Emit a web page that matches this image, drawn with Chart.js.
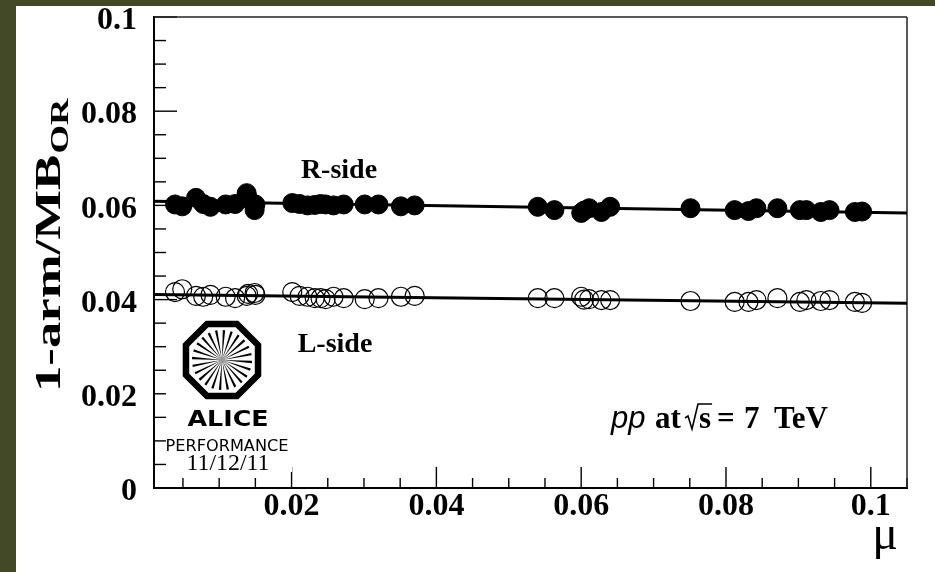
<!DOCTYPE html>
<html>
<head>
<meta charset="utf-8">
<script src="https://cdn.jsdelivr.net/npm/chart.js@4/dist/chart.umd.min.js"></script>
<style>
  html, body { margin: 0; padding: 0; background: #fff; }
  canvas { display: block; }
</style>
</head>
<body>
<canvas id="myChart" width="935" height="572"></canvas>
<script>
// run-by-run mean number of collisions per bunch crossing
const mu = [0.0039, 0.0049, 0.0068, 0.0078, 0.0088, 0.0109, 0.0122, 0.0138, 0.0140, 0.0149, 0.0150,
            0.0201, 0.0211, 0.0222, 0.0232, 0.0240, 0.0247, 0.0258, 0.0272, 0.0301, 0.0320, 0.0351, 0.0370,
            0.0540, 0.0563, 0.0600, 0.0604, 0.0611, 0.0628, 0.0640,
            0.0751, 0.0812, 0.0831, 0.0842, 0.0871, 0.0902, 0.0911, 0.0931, 0.0943, 0.0978, 0.0988];
// 1-arm / MB_OR ratio, R side (filled) and L side (open)
const rSide = [0.0602, 0.0598, 0.0616, 0.0603, 0.0597, 0.0602, 0.0603, 0.0626, 0.0614, 0.0590, 0.0602,
               0.0605, 0.0603, 0.0600, 0.0601, 0.0603, 0.0602, 0.0600, 0.0602, 0.0602, 0.0602, 0.0598, 0.0600,
               0.0597, 0.0590, 0.0584, 0.0589, 0.0594, 0.0586, 0.0597,
               0.0594, 0.0590, 0.0588, 0.0594, 0.0594, 0.0590, 0.0590, 0.0586, 0.0590, 0.0586, 0.0587];
const lSide = [0.0416, 0.0422, 0.0408, 0.0406, 0.0410, 0.0406, 0.0403, 0.0408, 0.0412, 0.0414, 0.0410,
               0.0416, 0.0408, 0.0406, 0.0403, 0.0403, 0.0401, 0.0406, 0.0403, 0.0401, 0.0403, 0.0406, 0.0408,
               0.0403, 0.0403, 0.0406, 0.0400, 0.0401, 0.0399, 0.0399,
               0.0397, 0.0395, 0.0395, 0.0399, 0.0403, 0.0395, 0.0399, 0.0397, 0.0399, 0.0395, 0.0393];
// straight-line fits, evaluated at the ends of the mu range
const fitMu = [0.001, 0.105];
const fitR = [0.0609, 0.0584];
const fitL = [0.0411, 0.0392];

const xTicks = [0.02, 0.04, 0.06, 0.08, 0.1];
const xTickLabels = ["0.02", "0.04", "0.06", "0.08", "0.1"];
const yTicks = [0, 0.02, 0.04, 0.06, 0.08, 0.1];
const yTickLabels = ["0", "0.02", "0.04", "0.06", "0.08", "0.1"];

const SERIF = "'Liberation Serif', 'Times New Roman', serif";
const SANS = "'Liberation Sans', Arial, sans-serif";

function pts(xs, ys) {
  return xs.map((x, i) => ({ x: x, y: ys[i] }));
}

// text squeezed/stretched horizontally to a given width
function textW(ctx, text, cx, by, width) {
  const w = ctx.measureText(text).width;
  ctx.save();
  ctx.translate(cx, by);
  ctx.scale(width / w, 1);
  ctx.textAlign = "center";
  ctx.textBaseline = "alphabetic";
  ctx.fillText(text, 0, 0);
  ctx.restore();
}

function line(ctx, x1, y1, x2, y2) {
  ctx.beginPath();
  ctx.moveTo(x1, y1);
  ctx.lineTo(x2, y2);
  ctx.stroke();
}

const background = {
  id: "background",
  beforeDraw(chart) {
    const ctx = chart.ctx;
    ctx.save();
    ctx.fillStyle = "#434826";
    ctx.fillRect(0, 0, chart.width, chart.height);
    ctx.fillStyle = "#fff";
    ctx.fillRect(16, 6, chart.width - 16, chart.height - 6);
    ctx.restore();
  }
};

// ROOT style: ticks point into the frame, 4 subdivisions per label
const frameTicks = {
  id: "frameTicks",
  beforeDatasetsDraw(chart) {
    const ctx = chart.ctx, a = chart.chartArea;
    const xs = chart.scales.x, ys = chart.scales.y;
    ctx.save();
    ctx.strokeStyle = "#000";
    ctx.lineWidth = 1.4;
    for (let i = 0; i <= 20; i++) {
      const v = i * 0.005;
      const y = ys.getPixelForValue(v);
      line(ctx, a.left, y, a.left + (i % 4 === 0 ? 23 : 12), y);
    }
    for (let i = 1; i <= 21; i++) {
      const v = i * 0.005;
      if (v > xs.max) break;
      const x = xs.getPixelForValue(v);
      line(ctx, x, a.bottom, x, a.bottom - (i % 4 === 0 ? 21 : 10));
    }
    ctx.strokeStyle = "#222";
    ctx.lineWidth = 1.5;
    line(ctx, a.left, a.top, a.right, a.top);
    line(ctx, a.right, a.top, a.right, a.bottom);
    ctx.restore();
  }
};

function drawLogo(ctx) {
  ctx.save();
  ctx.fillStyle = "#fff";
  ctx.fillRect(166, 312, 126, 160);
  const cx = 222, cy = 360;
  // octagon frame
  const R = 39;
  ctx.beginPath();
  for (let i = 0; i < 8; i++) {
    const ang = Math.PI / 8 + i * Math.PI / 4;
    const px = cx + R * Math.cos(ang), py = cy + R * Math.sin(ang);
    if (i === 0) ctx.moveTo(px, py); else ctx.lineTo(px, py);
  }
  ctx.closePath();
  ctx.strokeStyle = "#000";
  ctx.lineWidth = 6.5;
  ctx.lineJoin = "miter";
  ctx.stroke();
  // spokes
  ctx.fillStyle = "#000";
  const n = 24, rOut = 30;
  for (let i = 0; i < n; i++) {
    const ang = i * 2 * Math.PI / n + Math.PI / 48;
    const da = 0.04;
    ctx.beginPath();
    ctx.moveTo(cx, cy);
    ctx.lineTo(cx + rOut * Math.cos(ang - da), cy + rOut * Math.sin(ang - da));
    ctx.lineTo(cx + rOut * Math.cos(ang + da), cy + rOut * Math.sin(ang + da));
    ctx.closePath();
    ctx.fill();
  }
  ctx.fillStyle = "#999";
  ctx.beginPath();
  ctx.arc(cx, cy, 3, 0, 2 * Math.PI);
  ctx.fill();

  ctx.fillStyle = "#000";
  ctx.font = "bold 22px 'DejaVu Sans'";
  textW(ctx, "ALICE", 228, 426, 81);
  ctx.font = "15px 'DejaVu Sans'";
  textW(ctx, "PERFORMANCE", 227, 451, 123);
  ctx.font = "23px " + SERIF;
  textW(ctx, "11/12/11", 228, 470, 83);
  ctx.restore();
}

const decorations = {
  id: "decorations",
  afterDatasetsDraw(chart) {
    const ctx = chart.ctx;
    drawLogo(ctx);
    ctx.save();
    ctx.fillStyle = "#000";
    ctx.textBaseline = "alphabetic";

    // series labels
    ctx.font = "bold 28px " + SERIF;
    ctx.textAlign = "center";
    ctx.fillText("R-side", 339, 178);
    ctx.fillText("L-side", 335, 352);

    // collision system
    ctx.textAlign = "left";
    const by = 428;
    ctx.font = "italic 31px " + SANS;
    ctx.fillText("pp", 611, by);
    ctx.font = "bold 31px " + SERIF;
    ctx.fillText("at", 655, by);
    const x = 685;
    const sw = ctx.measureText("s").width;
    ctx.strokeStyle = "#000";
    ctx.lineWidth = 1.6;
    ctx.beginPath();
    ctx.moveTo(x, by - 10);
    ctx.lineTo(x + 3, by - 12);
    ctx.lineTo(x + 7, by + 1);
    ctx.lineTo(x + 13, by - 24);
    ctx.lineTo(x + 14 + sw + 1, by - 24);
    ctx.stroke();
    ctx.fillText("s", x + 14, by);
    ctx.fillText("=", 717, by);
    ctx.fillText("7", 744, by);
    ctx.fillText("TeV", 774, by);

    // axis titles
    ctx.font = "48px " + SERIF;
    ctx.textAlign = "right";
    ctx.fillText("\u03bc", 898, 549);

    ctx.save();
    ctx.translate(60, 392);
    ctx.rotate(-Math.PI / 2);
    ctx.textAlign = "left";
    ctx.font = "bold 36px " + SERIF;
    const main = "1-arm/MB";
    const w1 = ctx.measureText(main).width;
    ctx.font = "bold 25px " + SERIF;
    const w2 = ctx.measureText("OR").width;
    const sx = 292 / (w1 + w2);
    ctx.scale(sx, 1);
    ctx.font = "bold 36px " + SERIF;
    ctx.fillText(main, 0, 0);
    ctx.font = "bold 25px " + SERIF;
    ctx.fillText("OR", w1 + 1, 8);
    ctx.restore();

    ctx.restore();
  }
};

const tickFont = { family: SERIF, size: 32, weight: "bold", lineHeight: 1 };

new Chart(document.getElementById("myChart"), {
  type: "scatter",
  data: {
    datasets: [
      {
        label: "R-side",
        data: pts(mu, rSide),
        pointRadius: 9.5,
        pointBackgroundColor: "#000",
        pointBorderColor: "#000",
        pointBorderWidth: 1,
        order: 1
      },
      {
        label: "L-side",
        data: pts(mu, lSide),
        pointRadius: 9.5,
        pointBackgroundColor: "rgba(0,0,0,0)",
        pointBorderColor: "#000",
        pointBorderWidth: 1.2,
        order: 1
      },
      {
        type: "line",
        label: "R fit",
        data: pts(fitMu, fitR),
        borderColor: "#000",
        borderWidth: 3,
        pointRadius: 0,
        order: 2
      },
      {
        type: "line",
        label: "L fit",
        data: pts(fitMu, fitL),
        borderColor: "#000",
        borderWidth: 3,
        pointRadius: 0,
        order: 2
      }
    ]
  },
  options: {
    responsive: false,
    animation: false,
    events: [],
    layout: { padding: { left: 0, top: 17, right: 28, bottom: 0 } },
    plugins: {
      legend: { display: false },
      tooltip: { enabled: false }
    },
    scales: {
      x: {
        type: "linear",
        min: 0.001,
        max: 0.105,
        afterBuildTicks: (s) => { s.ticks = xTicks.map((v) => ({ value: v })); },
        afterFit: (s) => {
          s.height = 84;
          s.paddingLeft = 0;
          s.paddingRight = 0;
        },
        ticks: {
          font: tickFont,
          color: "#000",
          padding: 3,
          autoSkip: false,
          maxRotation: 0,
          callback: (v, i) => xTickLabels[i]
        },
        grid: { display: false, drawTicks: false },
        border: { display: true, color: "#000", width: 2 }
      },
      y: {
        type: "linear",
        min: 0,
        max: 0.1,
        afterBuildTicks: (s) => { s.ticks = yTicks.map((v) => ({ value: v })); },
        afterFit: (s) => {
          s.width = 154;
          s.paddingTop = 0;
          s.paddingBottom = 0;
        },
        ticks: {
          font: tickFont,
          color: "#000",
          padding: 17,
          labelOffset: 4,
          autoSkip: false,
          callback: (v, i) => yTickLabels[i]
        },
        grid: { display: false, drawTicks: false },
        border: { display: true, color: "#000", width: 2 }
      }
    }
  },
  plugins: [background, frameTicks, decorations]
});
</script>
</body>
</html>
